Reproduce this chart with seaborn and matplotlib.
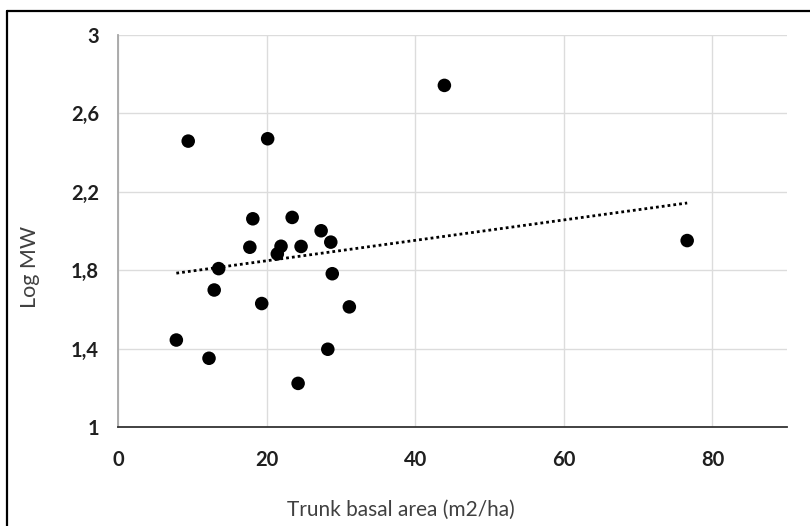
import numpy as np
import pandas as pd
import matplotlib
matplotlib.use("Agg")
import matplotlib.pyplot as plt
from matplotlib.lines import Line2D
import seaborn as sns

# Data
basal_area = [7.8, 12.2, 12.9, 13.5, 19.3, 17.7, 18.1, 9.4, 20.1, 23.4, 27.3,
              28.6, 21.9, 21.4, 24.6, 28.8, 31.1, 28.2, 24.2, 43.9, 76.6]
log_mw = [1.445, 1.352, 1.700, 1.809, 1.631, 1.918, 2.063, 2.459, 2.471, 2.070, 2.002,
          1.944, 1.923, 1.884, 1.922, 1.783, 1.614, 1.398, 1.224, 2.743, 1.952]
x_ticks = [0, 20, 40, 60, 80]
y_ticks = [1.0, 1.4, 1.8, 2.2, 2.6, 3.0]
y_tick_labels = ["1", "1,4", "1,8", "2,2", "2,6", "3"]

df = pd.DataFrame({"ba": basal_area, "lmw": log_mw})

sns.set_style("white")
plt.rcParams["font.family"] = ["Lato", "DejaVu Sans"]

fig = plt.figure(figsize=(8.1, 5.26), dpi=100)
ax = fig.add_axes([0.1462, 0.1876, 0.825, 0.7459])

sns.regplot(data=df, x="ba", y="lmw", ax=ax, scatter=False, ci=None, truncate=True,
            line_kws=dict(color="black", lw=2.0, linestyle=(0, (1, 1.1)),
                          dash_capstyle="butt"))
sns.scatterplot(data=df, x="ba", y="lmw", ax=ax, color="black", s=95,
                edgecolor="none", zorder=3)

ax.set_xlim(0, 90)
ax.set_ylim(1, 3)
ax.set_xticks(x_ticks)
ax.set_xticklabels([str(t) for t in x_ticks])
ax.set_yticks(y_ticks)
ax.set_yticklabels(y_tick_labels)
ax.grid(True, color="#dcdcdc", lw=1)
ax.set_axisbelow(True)
for s in ["top", "right"]:
    ax.spines[s].set_visible(False)
ax.spines["left"].set_color("#a6a6a6")
ax.spines["left"].set_linewidth(1.3)
ax.spines["bottom"].set_color("#333333")
ax.spines["bottom"].set_linewidth(1.3)
ax.tick_params(axis="both", length=0, labelsize=14.5, colors="#1f1f1f")
ax.tick_params(axis="x", pad=16)
ax.tick_params(axis="y", pad=14)
for lab in ax.get_xticklabels() + ax.get_yticklabels():
    lab.set_fontweight("bold")

ax.set_xlabel("Trunk basal area (m2/ha)", fontsize=15, color="#404040")
ax.set_ylabel("Log MW", fontsize=15.5, color="#404040")
ax.xaxis.set_label_coords(0.423, -0.185)
ax.yaxis.set_label_coords(-0.117, 0.41)

# outer frame (top and left edges visible)
fig.add_artist(Line2D([7/810, 1.0], [1 - 11/526, 1 - 11/526], color="black", lw=1.6,
                      transform=fig.transFigure))
fig.add_artist(Line2D([7/810, 7/810], [0, 1 - 11/526], color="black", lw=1.6,
                      transform=fig.transFigure))

fig.savefig("out.png", dpi=100)
